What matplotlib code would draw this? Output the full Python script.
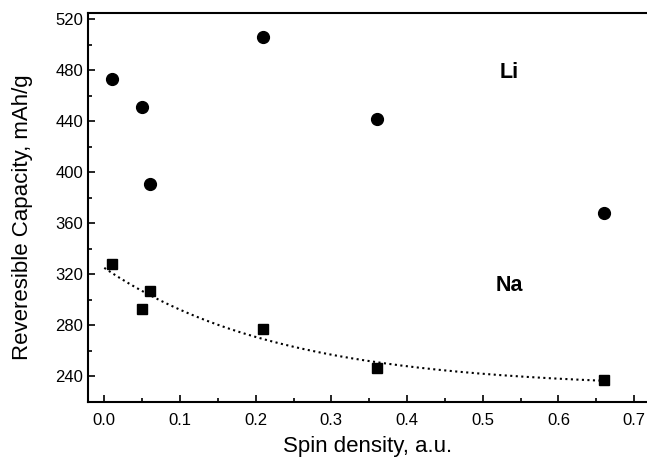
import matplotlib
matplotlib.use("Agg")
import matplotlib.pyplot as plt
import numpy as np
from matplotlib.ticker import MultipleLocator

plt.rcParams["font.family"] = ["Liberation Sans", "DejaVu Sans"]

# spin density (a.u.)
spin = [0.01, 0.05, 0.06, 0.21, 0.36, 0.66]
# reversible capacity, mAh/g
cap_li = [473, 451, 391, 506, 442, 368]
cap_na = [328, 293, 307, 277, 247, 237]


def fit_expdec(x, y):
    # y = y0 + A*exp(-x/t): grid over t, linear least squares for y0, A
    x = np.asarray(x, float)
    y = np.asarray(y, float)
    best = None
    for t in np.linspace(0.05, 1.0, 400):
        M = np.column_stack([np.ones_like(x), np.exp(-x / t)])
        coef, *_ = np.linalg.lstsq(M, y, rcond=None)
        err = np.sum((M @ coef - y) ** 2)
        if best is None or err < best[0]:
            best = (err, coef[0], coef[1], t)
    return best[1:]


y0, A, t = fit_expdec(spin, cap_na)
xf = np.linspace(0.0, max(spin), 200)
yf = y0 + A * np.exp(-xf / t)

fig = plt.figure(figsize=(6.47, 4.62), dpi=100)
ax = fig.add_axes([0.136, 0.13, 0.864, 0.842])

ax.plot(xf, yf, color="black", ls=":", lw=1.5)
ax.plot(spin, cap_li, "o", color="black", ms=8.5)
ax.plot(spin, cap_na, "s", color="black", ms=7)

ax.text(0.535, 478, "Li", fontsize=15.5, fontweight="bold", ha="center", va="center")
ax.text(0.535, 311, "Na", fontsize=15.5, fontweight="bold", ha="center", va="center")

ax.set_xlim(-0.0215, 0.717)
ax.set_ylim(220, 525)
ax.xaxis.set_major_locator(MultipleLocator(0.1))
ax.xaxis.set_minor_locator(MultipleLocator(0.05))
ax.yaxis.set_major_locator(MultipleLocator(40))
ax.yaxis.set_minor_locator(MultipleLocator(20))
ax.tick_params(which="both", direction="in", width=1.2, labelsize=12)
ax.tick_params(which="major", length=5)
ax.tick_params(which="minor", length=3)
ax.tick_params(axis="x", pad=8)
for s in ax.spines.values():
    s.set_linewidth(1.5)
ax.spines["right"].set_visible(False)

ax.set_xlabel("Spin density, a.u.", fontsize=16)
ax.xaxis.set_label_coords(0.5, -0.088)
ax.set_ylabel("Reveresible Capacity, mAh/g", fontsize=16)
ax.yaxis.set_label_coords(-0.098, 0.476)

fig.savefig("out.png", dpi=100)
